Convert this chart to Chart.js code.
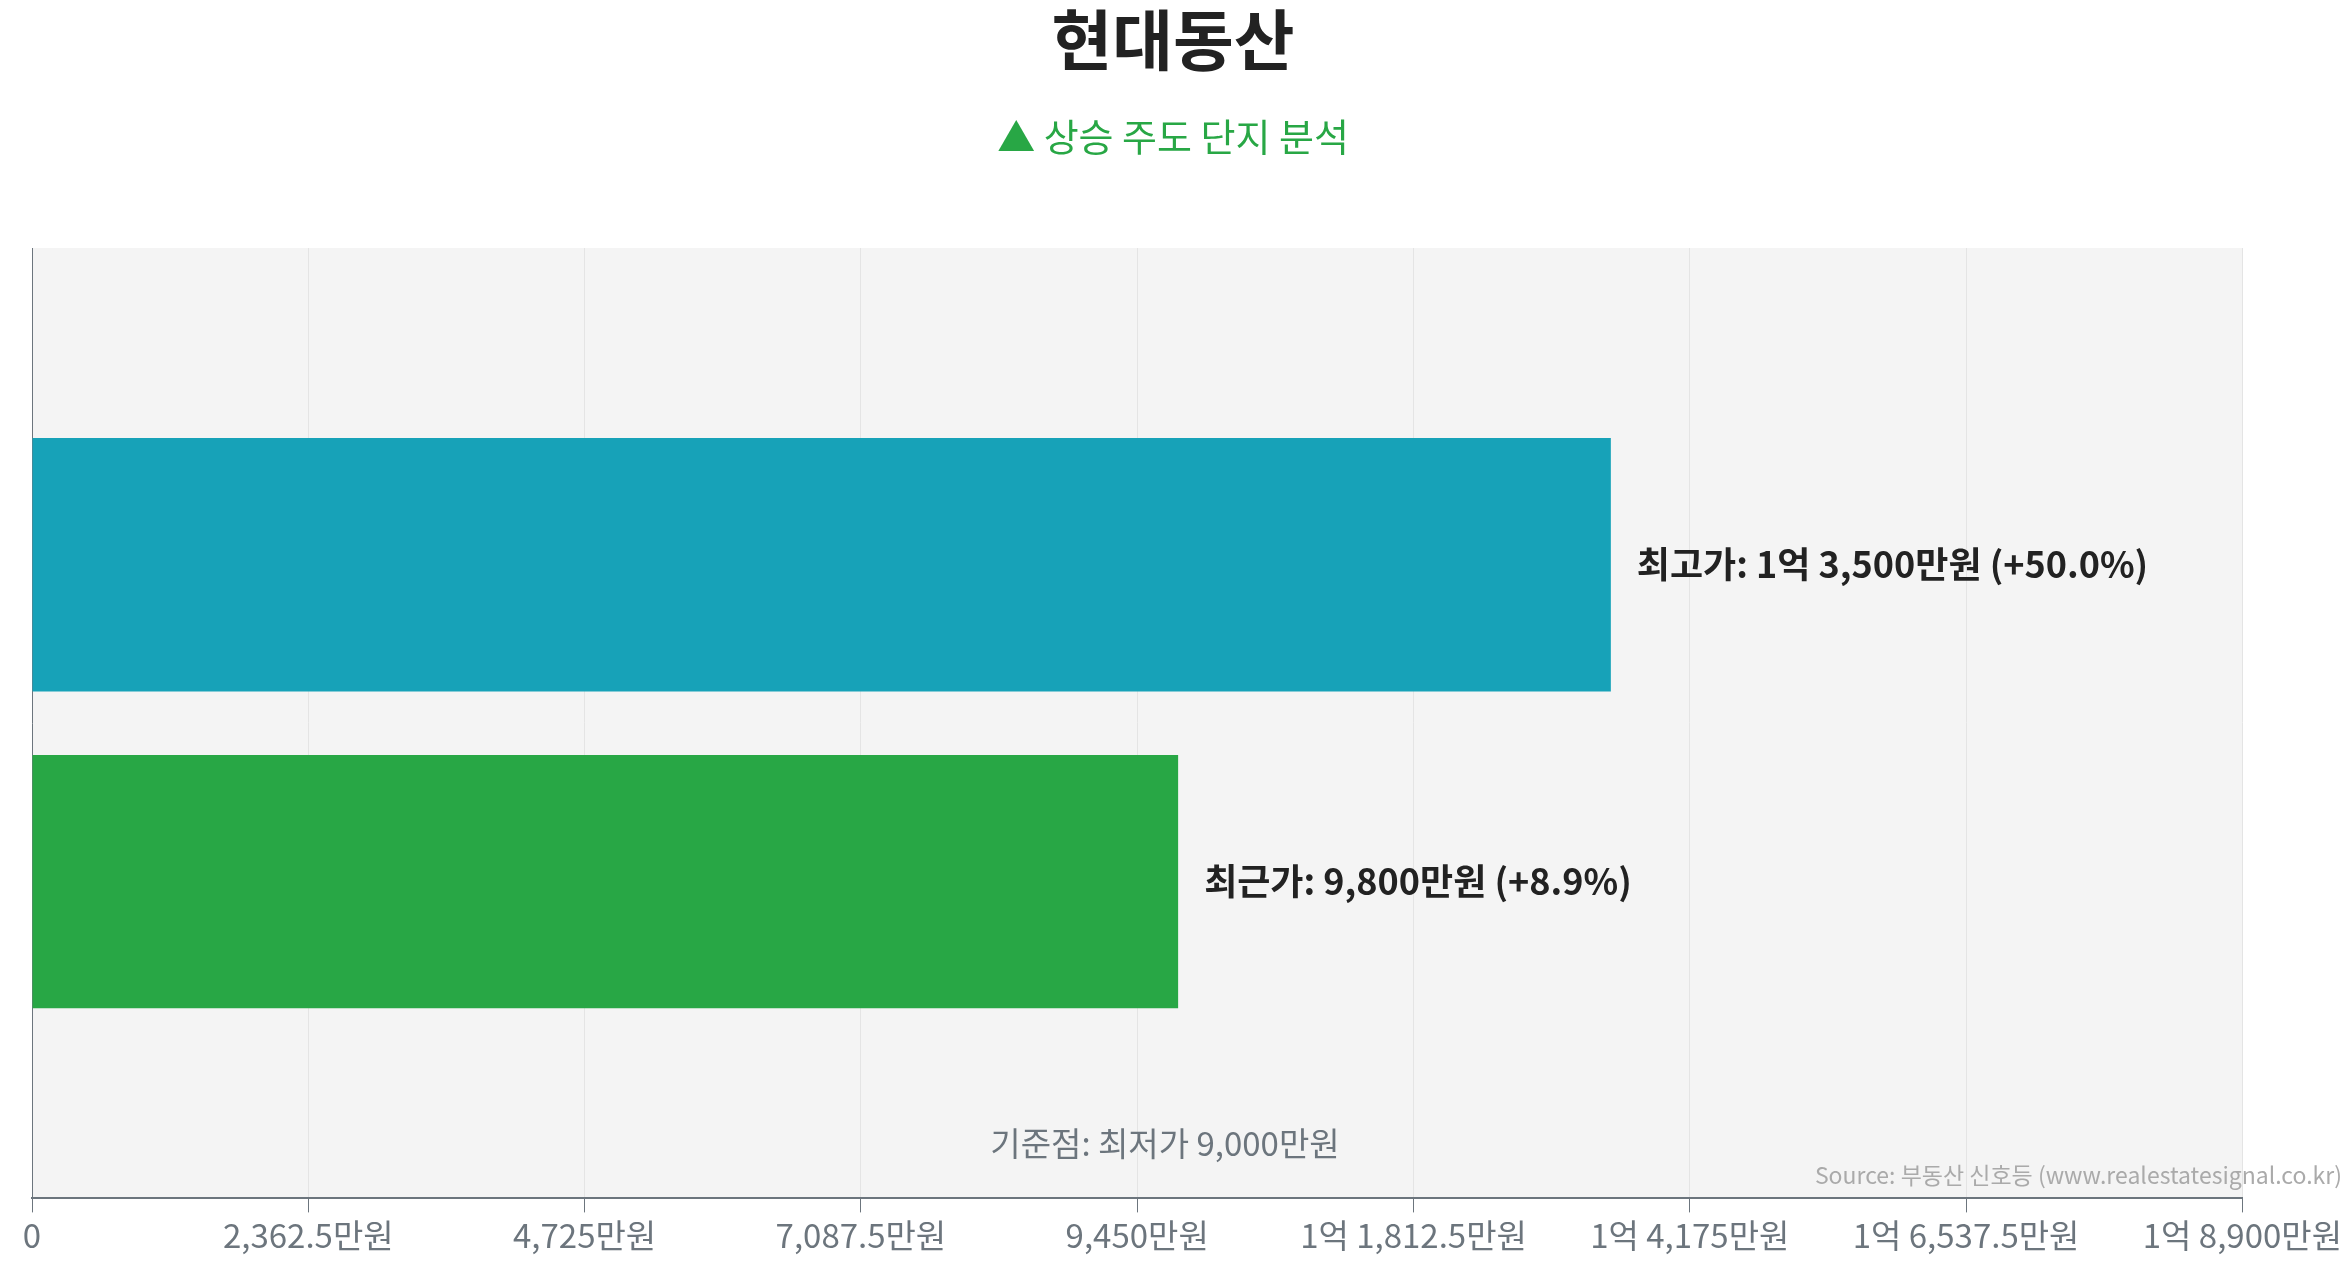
<!DOCTYPE html>
<html><head><meta charset="utf-8">
<script src="https://cdn.jsdelivr.net/npm/chart.js@4"></script>
<style>body{margin:0;background:#fff}canvas{display:block}</style>
</head><body>
<canvas id="c" width="2345" height="1268"></canvas>
<script>
// 데이터
const categories = ['', '최고가', '최근가', ''];
const prices = [null, 13500, 9800, null];
const changes = [null, '+50.0%', '+8.9%', null];
const barColors = ['#17a2b8', '#17a2b8', '#28a745', '#28a745'];
const basePrice = 9000;
const FONT = "'Noto Sans CJK KR', 'Noto Sans', sans-serif";

function fmt(v) {
    if (v === 0) return '0';
    if (v < 10000) return v.toLocaleString() + '만원';
    const rem = v % 10000;
    return Math.floor(v / 10000) + '억' + (rem ? ' ' + rem.toLocaleString() + '만원' : '원');
}

const decor = {
    id: 'decor',
    beforeDraw(chart) {
        const { ctx, chartArea: a } = chart;
        ctx.save();
        ctx.fillStyle = '#f4f4f4';
        ctx.fillRect(a.left, a.top, a.right - a.left, a.bottom - a.top);
        ctx.restore();
    },
    afterDraw(chart) {
        const { ctx, chartArea: a } = chart;
        const meta = chart.getDatasetMeta(0);
        ctx.save();
        ctx.textAlign = 'center';
        ctx.textBaseline = 'middle';
        ctx.fillStyle = '#222';
        ctx.font = 'bold 66px ' + FONT;
        ctx.fillText('현대동산', 1173, 40);
        ctx.fillStyle = '#28a745';
        ctx.font = '38px ' + FONT;
        ctx.fillText('▲ 상승 주도 단지 분석', 1173, 137);
        ctx.textAlign = 'left';
        ctx.fillStyle = '#222';
        ctx.font = 'bold 36px ' + FONT;
        meta.data.forEach((bar, i) => {
            if (prices[i] == null) return;
            const name = categories[i];
            ctx.fillText(name + ': ' + fmt(prices[i]) + ' (' + changes[i] + ')', bar.x + 26, bar.y);
        });
        ctx.textAlign = 'center';
        ctx.fillStyle = '#6c757d';
        ctx.font = '33px ' + FONT;
        ctx.fillText('기준점: 최저가 ' + fmt(basePrice), 1165, 1143);
        ctx.textAlign = 'right';
        ctx.fillStyle = '#aaa';
        ctx.font = '23px ' + FONT;
        ctx.fillText('Source: 부동산 신호등 (www.realestatesignal.co.kr)', 2342, 1175);
        ctx.restore();
    }
};

new Chart(document.getElementById('c'), {
    type: 'bar',
    data: {
        labels: categories,
        datasets: [{
            data: prices,
            backgroundColor: barColors,
            categoryPercentage: 0.8,
            barPercentage: 1
        }]
    },
    options: {
        indexAxis: 'y',
        responsive: false,
        animation: false,
        devicePixelRatio: 1,
        layout: { padding: { top: 248, left: 24, right: 41, bottom: 10 } },
        plugins: { legend: { display: false }, tooltip: { enabled: false } },
        scales: {
            x: {
                min: 0, max: 18900,
                ticks: {
                    stepSize: 2500, color: '#6c757d', font: { size: 33, family: FONT },
                    callback: v => fmt(v)
                },
                grid: { color: '#e4e4e4', lineWidth: 1, tickLength: 14, tickColor: '#6c757d' },
                border: { color: '#6c757d', width: 2 }
            },
            y: {
                offset: false,
                ticks: { display: false },
                grid: { display: false },
                border: { color: '#6c757d', width: 1 }
            }
        }
    },
    plugins: [decor]
});
</script>
</body></html>
